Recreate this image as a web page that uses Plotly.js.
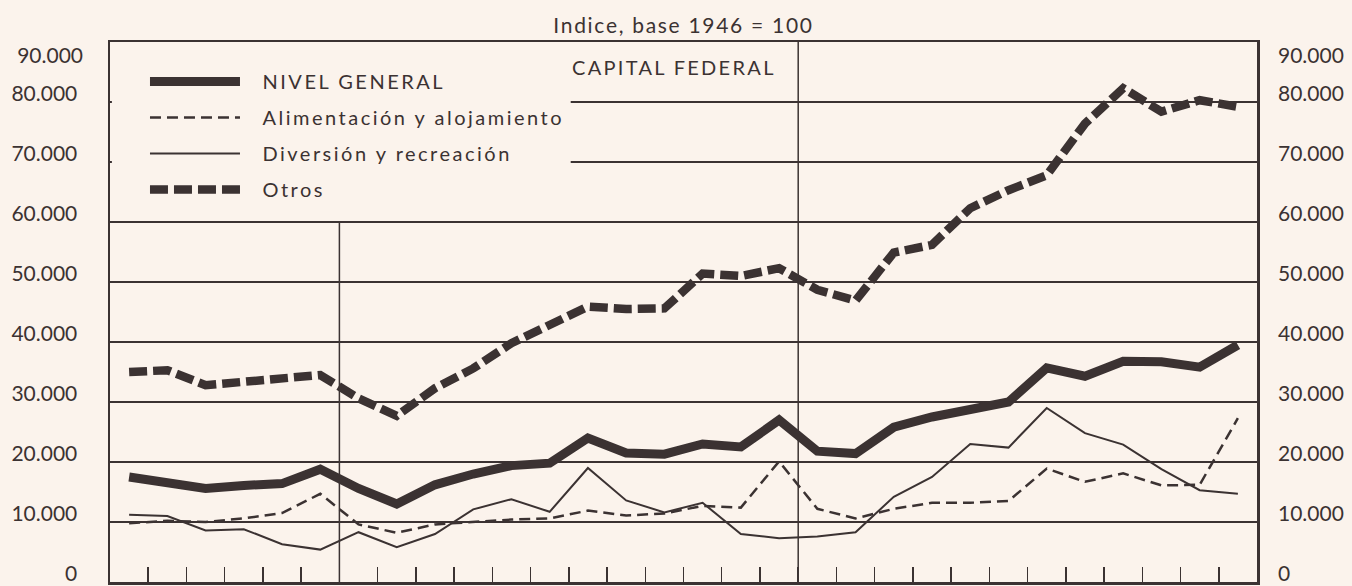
<!DOCTYPE html>
<html>
<head>
<meta charset="utf-8">
<script src="https://cdn.plot.ly/plotly-3.0.1.min.js"></script>
<style>
  html, body { margin: 0; padding: 0; background: #fbf3ec; }
  #chart { width: 1352px; height: 586px; }
  .legendtext { letter-spacing: 2.5px; }
  .gtitle { letter-spacing: 1.7px; }
  .annotation-text { letter-spacing: 2.3px; }
</style>
</head>
<body>
<div id="chart"></div>
<script>
// x position of each monthly observation (centre of each of the 30 months)
const meses = [0.5, 1.5, 2.5, 3.5, 4.5, 5.5, 6.5, 7.5, 8.5, 9.5,
               10.5, 11.5, 12.5, 13.5, 14.5, 15.5, 16.5, 17.5, 18.5, 19.5,
               20.5, 21.5, 22.5, 23.5, 24.5, 25.5, 26.5, 27.5, 28.5, 29.5];

const nivelGeneral = [17500, 16400, 15600, 16100, 16400, 18800, 15600, 13000, 16200, 18000,
                      19400, 19800, 24000, 21500, 21300, 23000, 22500, 27000, 21800, 21400,
                      25800, 27500, 28700, 30000, 35700, 34300, 36800, 36700, 35800, 39500];

const alimentacion = [9800, 10200, 10000, 10600, 11500, 14700, 9600, 8200, 9600, 10000,
                      10400, 10600, 11900, 11100, 11400, 12700, 12400, 20100, 12200, 10600,
                      12200, 13200, 13200, 13500, 18900, 16700, 18100, 16100, 16200, 27300];

const diversion = [11200, 11000, 8600, 8800, 6300, 5400, 8300, 5800, 8000, 12100,
                   13800, 11700, 19000, 13600, 11600, 13200, 8000, 7300, 7600, 8300,
                   14200, 17500, 23000, 22400, 29000, 24800, 22900, 18800, 15300, 14700];

const otros = [35000, 35300, 32800, 33400, 33700, 34500, 30600, 27700, 32300, 35600,
               39800, 42900, 45900, 45500, 45600, 51400, 51000, 52300, 48700, 46900,
               54900, 56200, 62300, 65300, 67800, 76400, 82300, 78400, 80300, 79200];

const serieNombres = ['NIVEL GENERAL', 'Alimentación y alojamiento', 'Diversión y recreación', 'Otros'];
const yTicks = [0, 10000, 20000, 30000, 40000, 50000, 60000, 70000, 80000];
const yTickTope = [90000];
const yRango = [0, 90000];
const limitesAnio = [6, 18];

const ink = '#3b3232';
const bg = '#fbf3ec';
const fontFam = 'Lato, "Open Sans", sans-serif';
const pad = '\u2002\u2009';

const traces = [
  { x: meses, y: nivelGeneral, name: pad + serieNombres[0], legendgroup: 'g1',
    mode: 'lines', line: { color: ink, width: 9 }, hoverinfo: 'skip' },
  { x: meses, y: alimentacion, name: pad + serieNombres[1], legendgroup: 'g2',
    mode: 'lines', line: { color: ink, width: 2.5, dash: '11px,6px' }, hoverinfo: 'skip' },
  { x: meses, y: diversion, name: pad + serieNombres[2], legendgroup: 'g3',
    mode: 'lines', line: { color: ink, width: 2 }, hoverinfo: 'skip' },
  { x: meses, y: otros, name: pad + serieNombres[3], legendgroup: 'g4',
    mode: 'lines', line: { color: ink, width: 8.5, dash: '18px,6px' }, hoverinfo: 'skip' },
  // carriers for the duplicate / top scale labels; they draw nothing
  { x: meses, y: nivelGeneral, yaxis: 'y2', mode: 'none', showlegend: false, hoverinfo: 'skip' },
  { x: meses, y: nivelGeneral, yaxis: 'y3', mode: 'none', showlegend: false, hoverinfo: 'skip' },
  { x: meses, y: nivelGeneral, yaxis: 'y4', mode: 'none', showlegend: false, hoverinfo: 'skip' }
];

const shapes = [
  { type: 'line', xref: 'x', yref: 'y', x0: limitesAnio[0], x1: limitesAnio[0], y0: 0, y1: 60000,
    line: { color: ink, width: 1.5 }, layer: 'below' },
  { type: 'line', xref: 'x', yref: 'y', x0: limitesAnio[1], x1: limitesAnio[1], y0: 0, y1: 90000,
    line: { color: ink, width: 1.5 }, layer: 'below' },
  // blank panel behind the legend (grid lines do not cross it)
  { type: 'rect', xref: 'x', yref: 'y', x0: 0.05, x1: 12.05, y0: 61500, y1: 89500,
    fillcolor: bg, line: { width: 0 }, layer: 'between' }
];

const tickFont = { family: fontFam, size: 21, color: ink };
const sideAxis = (side, vals, shift, standoff) => ({
  overlaying: 'y', side: side, anchor: 'x', range: yRango, tickvals: vals,
  tickformat: ',d', showgrid: false, zeroline: false, showline: false, ticks: '',
  ticklabelstandoff: standoff, ticklabelshift: shift, ticklabeloverflow: 'allow',
  tickfont: tickFont, fixedrange: true
});

const layout = {
  width: 1352, height: 586,
  paper_bgcolor: bg, plot_bgcolor: bg,
  margin: { l: 110, r: 95, t: 42, b: 4 },
  separators: ',.',
  font: { family: fontFam, color: ink, size: 20 },
  title: { text: 'Indice, base 1946 = 100', x: 0.5, xref: 'paper', xanchor: 'center',
           y: 0.957, yref: 'container', yanchor: 'middle',
           font: { family: fontFam, size: 21, color: ink } },
  showlegend: true,
  legend: { x: 0.0305, y: 0.963, xanchor: 'left', yanchor: 'top', bgcolor: 'rgba(0,0,0,0)', borderwidth: 0,
            itemwidth: 90, tracegroupgap: 7, font: { family: fontFam, size: 20, color: ink },
            itemclick: false, itemdoubleclick: false },
  xaxis: { range: [0, 30], showgrid: false, zeroline: false, showline: true, linecolor: ink,
           linewidth: 2.5, mirror: true, ticks: 'inside', tick0: 0, dtick: 1, ticklen: 15,
           tickwidth: 1.5, tickcolor: ink, showticklabels: false, fixedrange: true },
  yaxis: { range: yRango, tickvals: yTicks, tickformat: ',d', showgrid: true,
           gridcolor: ink, gridwidth: 1.3, zeroline: false, showline: true, linecolor: ink,
           linewidth: 2.5, mirror: true, ticks: '', ticklabelstandoff: 26, ticklabelshift: -8,
           ticklabeloverflow: 'allow', tickfont: tickFont, fixedrange: true },
  yaxis2: sideAxis('right', yTicks, -8, 20),
  yaxis3: sideAxis('left', yTickTope, 14, 26),
  yaxis4: sideAxis('right', yTickTope, 14, 20),
  shapes: shapes,
  annotations: [
    { text: 'CAPITAL FEDERAL', xref: 'paper', yref: 'paper', x: 0.4917, y: 0.954,
      xanchor: 'center', yanchor: 'middle', showarrow: false,
      font: { family: fontFam, size: 20, color: ink } }
  ]
};

Plotly.newPlot('chart', traces, layout, { displayModeBar: false, staticPlot: true });
</script>
</body>
</html>
